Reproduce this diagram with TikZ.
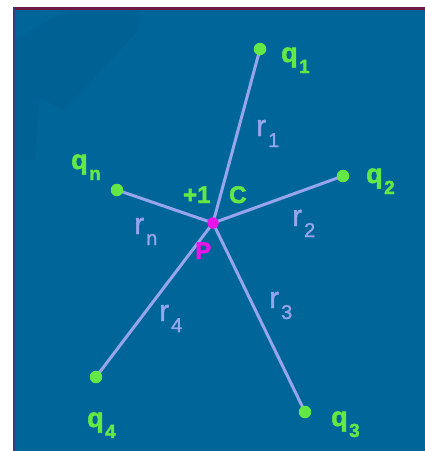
\documentclass[tikz,border=0pt]{standalone}
\usepackage{fontspec}
\setmainfont{Liberation Sans}
\newfontfamily\heavyfont[FakeBold=2]{Liberation Sans Bold}
\newfontfamily\mediumfont[FakeBold=1.5]{Liberation Sans}
\usetikzlibrary{backgrounds}
\definecolor{bgblue}{RGB}{0,102,153}
\definecolor{raycol}{RGB}{150,165,238}
\definecolor{qgreen}{RGB}{100,232,70}
\definecolor{pmag}{RGB}{232,20,232}
\definecolor{topbar}{RGB}{110,25,70}
\definecolor{leftbar}{RGB}{55,60,125}
\newcommand{\qlab}[1]{{\fontsize{27}{27}\selectfont q}\hspace{1.5pt}\raisebox{-11pt}{\fontsize{19}{19}\selectfont #1}}
\newcommand{\rlab}[1]{{\fontsize{30}{30}\selectfont r}\hspace{2pt}\raisebox{-11pt}{\fontsize{20}{20}\selectfont #1}}
\begin{document}
\begin{tikzpicture}[x=1pt,y=-1pt,
  charge/.style={circle,fill=qgreen,minimum size=12.5pt,inner sep=0},
  ptdot/.style={circle,fill=pmag,minimum size=11.5pt,inner sep=0},
  qtext/.style={anchor=base west,inner sep=0,text=qgreen,font=\heavyfont},
  rtext/.style={anchor=base west,inner sep=0,text=raycol,font=\mediumfont},
  ctext/.style={anchor=base west,inner sep=0,font=\heavyfont\fontsize{24}{24}\selectfont},
  rayline/.style={draw=raycol,line width=3pt}]
\useasboundingbox (0,0) rectangle (425,451);
% charges and point
\node[ptdot] (P) at (213,223) {};
\node[charge] (q1) at (260,49) {};
\node[charge] (q2) at (343,176) {};
\node[charge] (q3) at (305,412) {};
\node[charge] (q4) at (96,377) {};
\node[charge] (qn) at (117,190) {};
% charge labels
\node[qtext] (lq1) at (281,62) {\qlab{1}};
\node[qtext] (lq2) at (366,183) {\qlab{2}};
\node[qtext] (lq3) at (331,426) {\qlab{3}};
\node[qtext] (lq4) at (87,427) {\qlab{4}};
\node[qtext] (lqn) at (71,169) {\qlab{n}};
% distance labels
\node[rtext] (lr1) at (256,136) {\rlab{1}};
\node[rtext] (lr2) at (292,226) {\rlab{2}};
\node[rtext] (lr3) at (269,308) {\rlab{3}};
\node[rtext] (lr4) at (159,321) {\rlab{4}};
\node[rtext] (lrn) at (134,234) {\rlab{n}};
% test charge labels
\node[ctext,text=qgreen] (plus) at (183,203) {+1};
\node[ctext,text=qgreen] (coul) at (229,203) {C};
\node[ctext,text=pmag] (lP) at (195,259) {P};
\begin{scope}[on background layer]
  \fill[white] (0,0) rectangle (425,451);
  \fill[bgblue] (13,7) rectangle (425,451);
  \fill[black,opacity=0.03] (73,7) -- (140,7) -- (140,28) -- (118,53) -- (88,85) -- (63,110) -- (40,98) -- (35,160) -- (13,160) -- (13,40) -- cycle;
  \draw[topbar,line width=2.5pt] (13,8.25) -- (425,8.25);
  \draw[leftbar,line width=2pt] (14,7) -- (14,451);
  \draw[rayline] (P.center) -- (q1.center);
  \draw[rayline] (P.center) -- (q2.center);
  \draw[rayline] (P.center) -- (q3.center);
  \draw[rayline] (P.center) -- (q4.center);
  \draw[rayline] (P.center) -- (qn.center);
\end{scope}
\end{tikzpicture}
\end{document}
